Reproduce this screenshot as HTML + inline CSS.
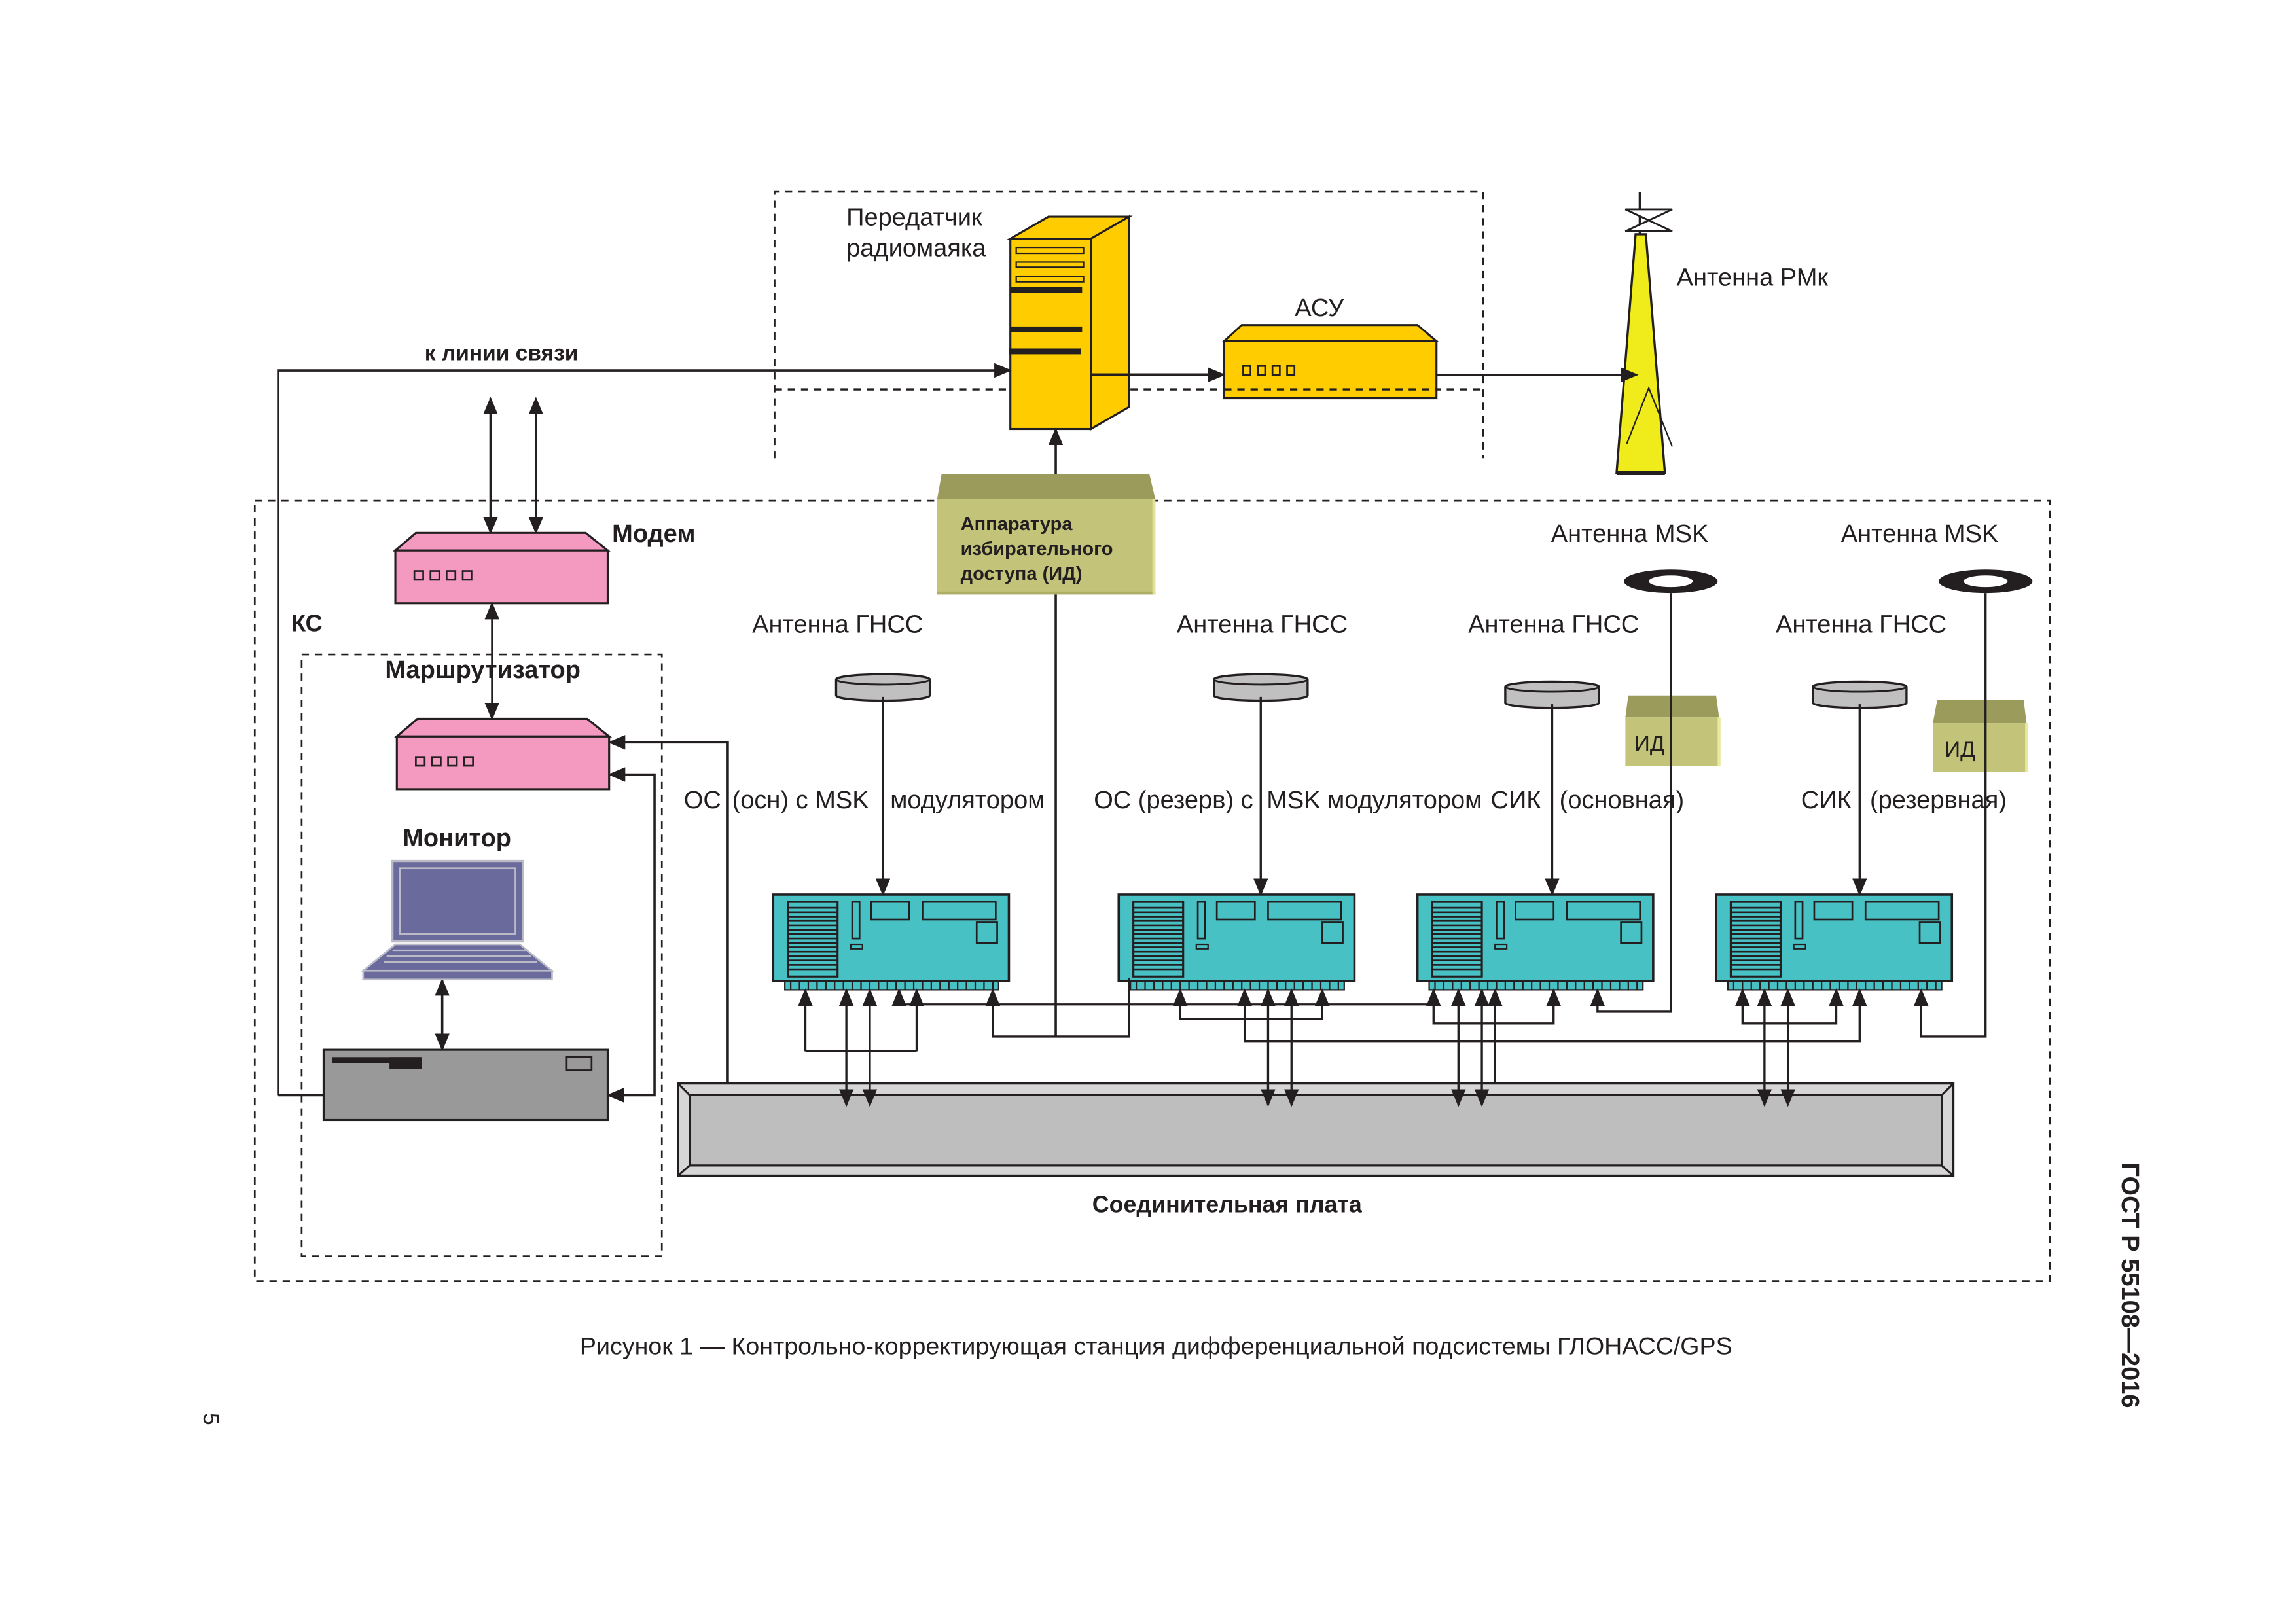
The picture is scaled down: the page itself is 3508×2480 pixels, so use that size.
<!DOCTYPE html>
<html><head><meta charset="utf-8"><style>
html,body{margin:0;padding:0;background:#fff;}
svg{display:block;}
text{font-family:"Liberation Sans",sans-serif;fill:#231f20;}
.b{font-weight:bold;}
</style></head><body>
<svg width="3508" height="2480" viewBox="0 0 1568 1108.5" preserveAspectRatio="none" xmlns="http://www.w3.org/2000/svg">
<defs>
<marker id="a" markerUnits="userSpaceOnUse" markerWidth="12" markerHeight="10" refX="11" refY="5" orient="auto-start-reverse"><path d="M0,0 L12,5 L0,10 Z" fill="#231f20"/></marker>
<g id="dev">
<rect x="0" y="0" width="161" height="59" fill="#48C1C5" stroke="#231f20" stroke-width="1.6"/>
<rect x="8" y="59" width="146" height="6" fill="#48C1C5" stroke="#231f20" stroke-width="1"/>
<path d="M12,59v6M18,59v6M24,59v6M30,59v6M36,59v6M42,59v6M48,59v6M54,59v6M60,59v6M66,59v6M72,59v6M78,59v6M84,59v6M90,59v6M96,59v6M102,59v6M108,59v6M114,59v6M120,59v6M126,59v6M132,59v6M138,59v6M144,59v6M150,59v6" stroke="#231f20" stroke-width="1"/>
<rect x="10" y="5" width="34" height="51" fill="#48C1C5" stroke="#231f20" stroke-width="1.4"/>
<path d="M10,9h34M10,12h34M10,15h34M10,18h34M10,21h34M10,24h34M10,27h34M10,30h34M10,33h34M10,36h34M10,39h34M10,42h34M10,45h34M10,48h34M10,51h34" stroke="#231f20" stroke-width="1.2"/>
<rect x="54" y="5" width="5" height="25" fill="#48C1C5" stroke="#231f20" stroke-width="1.2"/>
<rect x="53" y="34" width="8" height="3" fill="#48C1C5" stroke="#231f20" stroke-width="1"/>
<rect x="67" y="5" width="26" height="12" fill="#48C1C5" stroke="#231f20" stroke-width="1.2"/>
<rect x="102" y="5" width="50" height="12" fill="#48C1C5" stroke="#231f20" stroke-width="1.2"/>
<rect x="139" y="19" width="14" height="14" fill="#48C1C5" stroke="#231f20" stroke-width="1.2"/>
</g>
<g id="gn">
<path d="M-32,0 A32,3.5 0 0 1 32,0 V11 A32,3.5 0 0 1 -32,11 Z" fill="#C0C0C0" stroke="#231f20" stroke-width="1.5"/>
<path d="M-32,0 A32,3.5 0 0 0 32,0" fill="none" stroke="#231f20" stroke-width="1.3"/>
</g>
<g id="pinkbox">
<path d="M0,12 L14,0 L130,0 L145,12 Z" fill="#F49AC1" stroke="#231f20" stroke-width="1.4"/>
<rect x="0" y="12" width="145" height="36" fill="#F49AC1" stroke="#231f20" stroke-width="1.4"/>
<rect x="13" y="26" width="6" height="6" fill="#F49AC1" stroke="#231f20" stroke-width="1.2"/>
<rect x="24" y="26" width="6" height="6" fill="#F49AC1" stroke="#231f20" stroke-width="1.2"/>
<rect x="35" y="26" width="6" height="6" fill="#F49AC1" stroke="#231f20" stroke-width="1.2"/>
<rect x="46" y="26" width="6" height="6" fill="#F49AC1" stroke="#231f20" stroke-width="1.2"/>
</g>
</defs>

<g fill="none" stroke="#231f20" stroke-width="1.2" stroke-dasharray="5,4">
<path d="M529,313 V131 H1013 V313"/>
<path d="M529,266 H1013" stroke-width="1.5"/>
<rect x="174" y="342" width="1226" height="533"/>
<rect x="206" y="447" width="246" height="411"/>
</g>

<path d="M690,163 L716,148 L771,148 L745,163 Z" fill="#FFCC00" stroke="#231f20" stroke-width="1.4"/>
<path d="M745,163 L771,148 L771,278 L745,293 Z" fill="#FFCC00" stroke="#231f20" stroke-width="1.4"/>
<rect x="690" y="163" width="55" height="130" fill="#FFCC00" stroke="#231f20" stroke-width="1.4"/>
<rect x="694" y="169" width="46" height="4" fill="#FFCC00" stroke="#231f20" stroke-width="1"/>
<rect x="694" y="179" width="46" height="3.5" fill="#FFCC00" stroke="#231f20" stroke-width="1"/>
<rect x="694" y="189" width="46" height="3.5" fill="#FFCC00" stroke="#231f20" stroke-width="1"/>
<rect x="690" y="196" width="49" height="4" fill="#231f20"/>
<rect x="690" y="223" width="49" height="4" fill="#231f20"/>
<rect x="689" y="238" width="49" height="4" fill="#231f20"/>
<text x="578" y="154" font-size="17">Передатчик</text>
<text x="578" y="175" font-size="17">радиомаяка</text>

<path d="M836,233 L848,222 L968,222 L981,233 Z" fill="#FFCC00" stroke="#231f20" stroke-width="1.4"/>
<rect x="836" y="233" width="145" height="39" fill="#FFCC00" stroke="#231f20" stroke-width="1.4"/>
<g fill="none" stroke="#231f20" stroke-width="1.2"><rect x="849" y="250" width="5" height="6"/><rect x="859" y="250" width="5" height="6"/><rect x="869" y="250" width="5" height="6"/><rect x="879" y="250" width="5" height="6"/></g>
<path d="M836,266 H981" stroke="#231f20" stroke-width="1.5" stroke-dasharray="5,4"/>
<text x="901" y="216" font-size="17" text-anchor="middle">АСУ</text>

<path d="M1117,160 L1124,160 L1137,323 L1104,323 Z" fill="#F0EC1C" stroke="#231f20" stroke-width="1.5"/>
<path d="M1104,323 H1137" stroke="#231f20" stroke-width="3"/>
<path d="M1120,131 V160" stroke="#231f20" stroke-width="1.8"/>
<path d="M1110,143 H1142 L1110,158 H1142 Z" fill="#fff" stroke="#231f20" stroke-width="1.3"/>
<path d="M1111,303 L1126,265 L1142,305" fill="none" stroke="#231f20" stroke-width="1"/>
<text x="1145" y="195" font-size="17">Антенна РМк</text>

<g fill="none" stroke="#231f20" stroke-width="1.6">
<path d="M190,748 V253 H690" marker-end="url(#a)"/>
<path d="M745,256 H836" marker-end="url(#a)" stroke-width="2"/>
<path d="M981,256 H1118" marker-end="url(#a)"/>
<path d="M721,708 V293" marker-end="url(#a)"/>
<path d="M190,748 H221"/>
<path d="M335,272 V364" marker-start="url(#a)" marker-end="url(#a)"/>
<path d="M366,272 V364" marker-start="url(#a)" marker-end="url(#a)"/>
<path d="M336,412 V491" marker-start="url(#a)" marker-end="url(#a)" stroke-width="1.3"/>
<path d="M302,669 V717" marker-start="url(#a)" marker-end="url(#a)"/>
<path d="M497,740 V507 H416" marker-end="url(#a)"/>
<path d="M416,529 H447 V748 H415" marker-start="url(#a)" marker-end="url(#a)"/>
</g>
<text x="290" y="246" font-size="15" class="b">к линии связи</text>

<path d="M643,324 L785,324 L789,341 L640,341 Z" fill="#9B9B5C"/>
<rect x="640" y="341" width="149" height="65" fill="#C3C47A"/>
<rect x="640" y="404" width="149" height="2" fill="#ADAE66"/>
<rect x="787" y="341" width="2" height="65" fill="#E2E39A"/>
<text x="656" y="362" font-size="13" class="b">Аппаратура</text>
<text x="656" y="379" font-size="13" class="b">избирательного</text>
<text x="656" y="396" font-size="13" class="b">доступа (ИД)</text>

<use href="#pinkbox" x="270" y="364"/>
<use href="#pinkbox" x="271" y="491"/>
<text x="418" y="370" font-size="17" class="b">Модем</text>
<text x="199" y="431" font-size="16" class="b">КС</text>
<text x="263" y="463" font-size="17" class="b">Маршрутизатор</text>
<text x="275" y="578" font-size="17" class="b">Монитор</text>

<rect x="268" y="588" width="89" height="55" fill="#6A6A9C" stroke="#BBBBC8" stroke-width="1.5"/>
<rect x="273" y="593" width="79" height="45" fill="none" stroke="#BBBBC8" stroke-width="1.2"/>
<path d="M270,645 L355,645 L377,663 L248,663 Z" fill="#6A6A9C" stroke="#BBBBC8" stroke-width="1.2"/>
<path d="M268,649 H359 M264,653 H363 M262,657 H367" stroke="#BBBBC8" stroke-width="1"/>
<rect x="248" y="663" width="129" height="6" fill="#6A6A9C" stroke="#BBBBC8" stroke-width="1.2"/>

<rect x="221" y="717" width="194" height="48" fill="#999999" stroke="#231f20" stroke-width="1.4"/>
<rect x="227" y="722" width="61" height="4" fill="#231f20"/>
<rect x="266" y="722" width="22" height="8" fill="#231f20"/>
<rect x="387" y="722" width="17" height="9" fill="none" stroke="#231f20" stroke-width="1.2"/>

<rect x="463" y="740" width="871" height="63" fill="#D6D6D6" stroke="#231f20" stroke-width="1.5"/>
<path d="M463,740 L471,748 H1326 L1334,740 M471,748 V796 H1326 V748 M463,803 L471,796 M1334,803 L1326,796" fill="none" stroke="#231f20" stroke-width="1.4"/>
<rect x="471" y="748" width="855" height="48" fill="#BEBEBE"/>
<path d="M471,748 H1326 V796 H471 Z" fill="none" stroke="#231f20" stroke-width="1.4"/>
<text x="838" y="828" font-size="16" class="b" text-anchor="middle">Соединительная плата</text>

<use href="#dev" x="528" y="611"/>
<use href="#dev" x="764" y="611"/>
<use href="#dev" x="968" y="611"/>
<use href="#dev" x="1172" y="611"/>

<use href="#gn" x="603" y="464"/>
<use href="#gn" x="861" y="464"/>
<use href="#gn" x="1060" y="469"/>
<use href="#gn" x="1270" y="469"/>
<g fill="none" stroke="#231f20" stroke-width="1.5">
<path d="M603,476 V611" marker-end="url(#a)"/>
<path d="M861,476 V611" marker-end="url(#a)"/>
<path d="M1060,481 V611" marker-end="url(#a)"/>
<path d="M1270,481 V611" marker-end="url(#a)"/>
</g>
<text x="572" y="432" font-size="17" text-anchor="middle">Антенна ГНСС</text>
<text x="862" y="432" font-size="17" text-anchor="middle">Антенна ГНСС</text>
<text x="1061" y="432" font-size="17" text-anchor="middle">Антенна ГНСС</text>
<text x="1271" y="432" font-size="17" text-anchor="middle">Антенна ГНСС</text>

<path d="M1112,475 L1172,475 L1174,490 L1110,490 Z" fill="#9B9B5C"/>
<rect x="1110" y="490" width="64" height="33" fill="#C3C47A"/>
<rect x="1173" y="490" width="2" height="33" fill="#E8E99E"/>
<text x="1116" y="513" font-size="15">ИД</text>
<path d="M1323,478 L1382,478 L1384,494 L1320,494 Z" fill="#9B9B5C"/>
<rect x="1320" y="494" width="64" height="33" fill="#C3C47A"/>
<rect x="1383" y="494" width="2" height="33" fill="#E8E99E"/>
<text x="1328" y="517" font-size="15">ИД</text>

<ellipse cx="1141" cy="397" rx="32" ry="8" fill="#231f20"/>
<ellipse cx="1141" cy="397" rx="15" ry="4" fill="#fff"/>
<ellipse cx="1356" cy="397" rx="32" ry="8" fill="#231f20"/>
<ellipse cx="1356" cy="397" rx="15" ry="4" fill="#fff"/>
<text x="1113" y="370" font-size="17" text-anchor="middle">Антенна MSK</text>
<text x="1311" y="370" font-size="17" text-anchor="middle">Антенна MSK</text>

<g font-size="17">
<text x="467" y="552">ОС</text>
<text x="500" y="552">(осн) с MSK</text>
<text x="608" y="552">модулятором</text>
<text x="747" y="552">ОС (резерв) с</text>
<text x="865" y="552">MSK модулятором</text>
<text x="1018" y="552">СИК</text>
<text x="1065" y="552">(основная)</text>
<text x="1230" y="552">СИК</text>
<text x="1277" y="552">(резервная)</text>
</g>

<g fill="none" stroke="#231f20" stroke-width="1.5">
<path d="M550,718 V676" marker-end="url(#a)"/>
<path d="M550,718 H626"/>
<path d="M626,718 V676" marker-end="url(#a)"/>
<path d="M614,686 V676" marker-end="url(#a)"/>
<path d="M614,686 H979 V676" marker-end="url(#a)"/>
<path d="M578,676 V755" marker-start="url(#a)" marker-end="url(#a)"/>
<path d="M594,676 V755" marker-start="url(#a)" marker-end="url(#a)"/>
<path d="M678,676 V708 H771 V668" marker-start="url(#a)"/>
<path d="M806,676 V696 H903 V676" marker-start="url(#a)" marker-end="url(#a)"/>
<path d="M850,676 V711 H1270 V676" marker-start="url(#a)" marker-end="url(#a)"/>
<path d="M866,676 V755" marker-start="url(#a)" marker-end="url(#a)"/>
<path d="M882,676 V755" marker-start="url(#a)" marker-end="url(#a)"/>
<path d="M979,686 V699 H1061 V676" marker-end="url(#a)"/>
<path d="M996,676 V755" marker-start="url(#a)" marker-end="url(#a)"/>
<path d="M1012,676 V755" marker-start="url(#a)" marker-end="url(#a)"/>
<path d="M1021,740 V676" marker-end="url(#a)"/>
<path d="M1141,405 V691 H1091 V676" marker-end="url(#a)"/>
<path d="M1190,676 V699 H1254 V676" marker-start="url(#a)" marker-end="url(#a)"/>
<path d="M1205,676 V755" marker-start="url(#a)" marker-end="url(#a)"/>
<path d="M1221,676 V755" marker-start="url(#a)" marker-end="url(#a)"/>
<path d="M1356,405 V708 H1312 V676" marker-end="url(#a)"/>
</g>

<text x="396" y="925" font-size="16.5" textLength="787" lengthAdjust="spacingAndGlyphs">Рисунок 1 — Контрольно-корректирующая станция дифференциальной подсистемы ГЛОНАСС/GPS</text>
<text transform="translate(1449,794) rotate(90)" font-size="17" class="b">ГОСТ Р 55108—2016</text>
<text transform="translate(139,965) rotate(90)" font-size="15">5</text>
</svg>
</body></html>
